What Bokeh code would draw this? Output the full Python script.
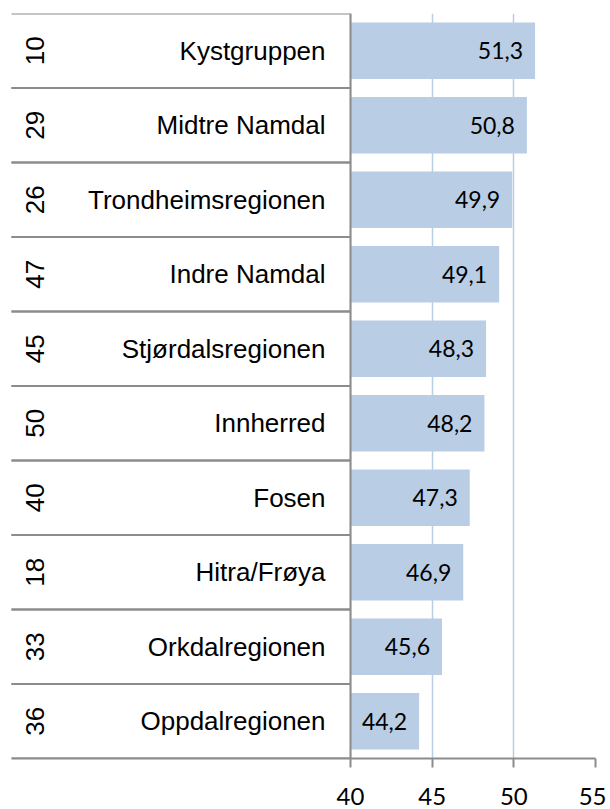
import math
from bokeh.plotting import figure
from bokeh.models import ColumnDataSource, FactorRange, Range1d, FixedTicker, Span
from bokeh.transform import dodge
from bokeh.core.properties import value
from bokeh.embed import file_html
from bokeh.resources import INLINE

ranks = ["10", "29", "26", "47", "45", "50", "40", "18", "33", "36"]
regions = ["Kystgruppen", "Midtre Namdal", "Trondheimsregionen", "Indre Namdal",
           "Stjørdalsregionen", "Innherred", "Fosen", "Hitra/Frøya",
           "Orkdalregionen", "Oppdalregionen"]
values = [51.3, 50.8, 49.9, 49.1, 48.3, 48.2, 47.3, 46.9, 45.6, 44.2]
value_labels = ["51,3", "50,8", "49,9", "49,1", "48,3", "48,2", "47,3", "46,9", "45,6", "44,2"]
x_ticks = [40, 45, 50, 55]

BASE = 40
X_START = 19.24
X_END = 55
SEP_START = X_START - 2  # begins outside the frame; clipped at the frame edge

src = ColumnDataSource(dict(region=regions, rank=ranks, val=values, lab=value_labels,
                            base=[BASE] * len(regions), start=[SEP_START] * len(regions)))

p = figure(width=606, height=809, output_backend="svg", toolbar_location=None,
           y_range=FactorRange(factors=regions[::-1], range_padding=0),
           x_range=Range1d(X_START, X_END), y_axis_location=None,
           min_border_left=11, min_border_right=11, min_border_top=13, min_border_bottom=51)
p.outline_line_color = None
p.background_fill_color = "white"
p.border_fill_color = "white"

# bars
p.hbar(y="region", left="base", right="val", height=0.76, source=src,
       fill_color="#b9cde5", line_color=None)

# table separators on each row boundary
line_col = "#8c8c8c"
for off in (-0.5, 0.5):
    p.segment(x0="start", x1="base",
              y0=dodge("region", off, range=p.y_range),
              y1=dodge("region", off, range=p.y_range),
              source=src, line_color=line_col, line_width=2)

# vertical axis line at base value
p.add_layout(Span(location=BASE, dimension="height", line_color=line_col, line_width=2))

# texts
p.text(x="base", y="region", text="rank", source=src, x_offset=-316,
       angle=math.pi / 2, text_align="center", text_baseline="middle",
       text_font=value("Liberation Sans"), text_font_size="26px", text_color="black")
p.text(x="base", y="region", text="region", source=src, x_offset=-25,
       text_align="right", text_baseline="middle",
       text_font=value("Liberation Sans"), text_font_size="26px", text_color="black")
p.text(x="val", y="region", text="lab", source=src, x_offset=-12,
       text_align="right", text_baseline="middle",
       text_font=value("Lato"), text_font_size="23px", text_color="black")

# axes
p.ygrid.grid_line_color = None
ticker = FixedTicker(ticks=x_ticks)
p.xaxis.ticker = ticker
p.xgrid.ticker = ticker
p.xgrid.grid_line_color = "#b9cde5"
p.xgrid.grid_line_width = 1.5
xa = p.xaxis[0]
xa.axis_line_color = line_col
xa.axis_line_width = 2
xa.major_tick_line_color = line_col
xa.major_tick_line_width = 2
xa.major_tick_out = 9
xa.major_tick_in = 0
xa.minor_tick_line_color = None
xa.major_label_standoff = 20
xa.major_label_text_font = "Lato"
xa.major_label_text_font_size = "24px"
xa.major_label_text_color = "black"

open("out.html", "w").write(file_html(p, INLINE))
